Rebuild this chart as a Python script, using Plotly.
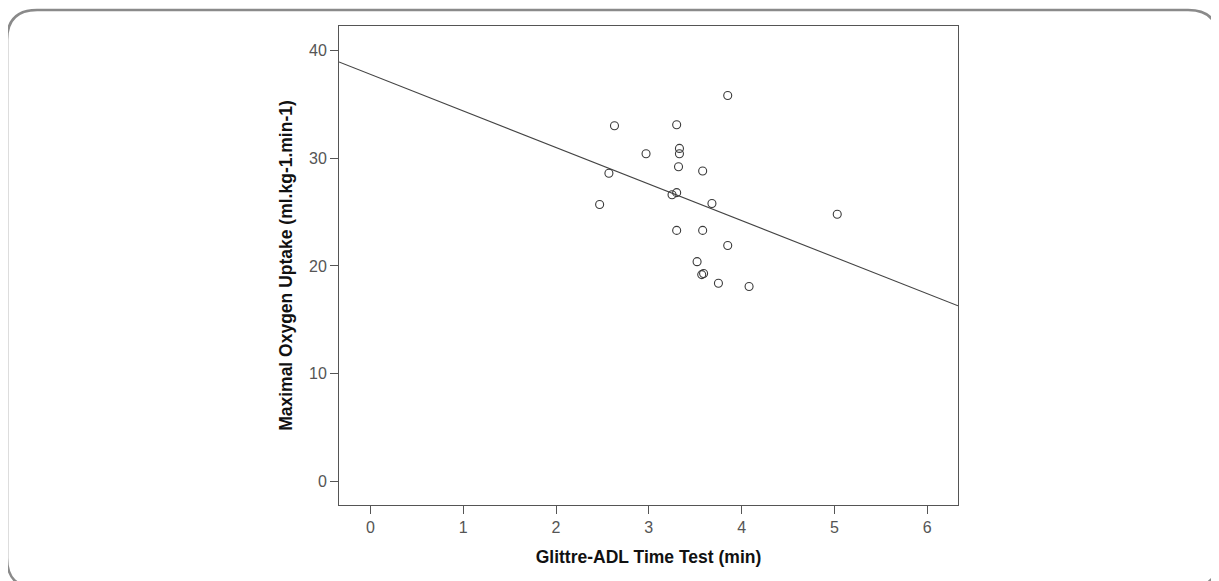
import plotly.graph_objects as go

# Data
glittre_time = [3.85, 2.63, 3.30, 2.97, 3.33, 3.33, 3.32, 3.58, 2.57, 3.25, 3.30,
                3.68, 2.47, 3.30, 3.58, 3.85, 3.52, 3.57, 3.59, 3.75, 4.08, 5.03]
vo2_max = [35.8, 33.0, 33.1, 30.4, 30.9, 30.4, 29.2, 28.8, 28.6, 26.6, 26.8,
           25.8, 25.7, 23.3, 23.3, 21.9, 20.4, 19.2, 19.3, 18.4, 18.1, 24.8]
fit_intercept = 37.77
fit_slope = -3.39
x_ticks = [0, 1, 2, 3, 4, 5, 6]
y_ticks = [0, 10, 20, 30, 40]
x_range = [-0.338, 6.331]
y_range = [-2.16, 42.25]

W, H = 1219, 581
OFF = 8  # page body margin offset
L, R, T, B = 339.3 - OFF, 958.0 - OFF, 26.0 - OFF, 505.0 - OFF

fig = go.Figure()
fig.add_trace(go.Scatter(
    x=x_range,
    y=[fit_intercept + fit_slope * v for v in x_range],
    mode="lines", line=dict(color="#444444", width=1.1),
    hoverinfo="skip", showlegend=False))
fig.add_trace(go.Scatter(
    x=glittre_time, y=vo2_max, mode="markers",
    marker=dict(symbol="circle-open", size=8, color="#3a3a3a",
                line=dict(width=1.1, color="#3a3a3a")),
    showlegend=False))

# rounded outer border (pixel -> paper coords)
def px(x):
    return (x - L) / (R - L)

def py(y):
    return (B - y) / (B - T)

x0, x1, y0, y1, r = 7.5 - OFF, 1218.0 - OFF, 10.0 - OFF, 588.0 - OFF, 30.0
path = (f"M {px(x0 + r)},{py(y0)} L {px(x1 - r)},{py(y0)} "
        f"Q {px(x1)},{py(y0)} {px(x1)},{py(y0 + r)} "
        f"L {px(x1)},{py(y1 - r)} Q {px(x1)},{py(y1)} {px(x1 - r)},{py(y1)} "
        f"L {px(x0 + r)},{py(y1)} Q {px(x0)},{py(y1)} {px(x0)},{py(y1 - r)} "
        f"L {px(x0)},{py(y0 + r)} Q {px(x0)},{py(y0)} {px(x0 + r)},{py(y0)} Z")
fig.add_shape(type="path", path=path, xref="paper", yref="paper",
              line=dict(color="#8a8a8a", width=2.5), layer="below")

axis_common = dict(
    showgrid=False, zeroline=False, showline=True, mirror=True,
    linecolor="#555555", linewidth=1, ticks="outside", ticklen=8,
    tickcolor="#555555", tickwidth=1,
    tickfont=dict(family="Liberation Sans, Arial", size=16, color="#555555"),
)
fig.update_xaxes(range=x_range, tickvals=x_ticks, **axis_common,
                 title=dict(text="<b>Glittre-ADL Time Test (min)</b>",
                            font=dict(family="Liberation Sans, Arial", size=17.5, color="#111111"),
                            standoff=15))
fig.update_yaxes(range=y_range, tickvals=y_ticks, **axis_common,
                 title=dict(text="<b>Maximal Oxygen Uptake (ml.kg-1.min-1)</b>",
                            font=dict(family="Liberation Sans, Arial", size=17.5, color="#111111"),
                            standoff=11))
fig.update_layout(
    width=W, height=H,
    margin=dict(l=L, r=W - R, t=T, b=H - B),
    plot_bgcolor="white", paper_bgcolor="white",
)
fig.write_html("out.html")
